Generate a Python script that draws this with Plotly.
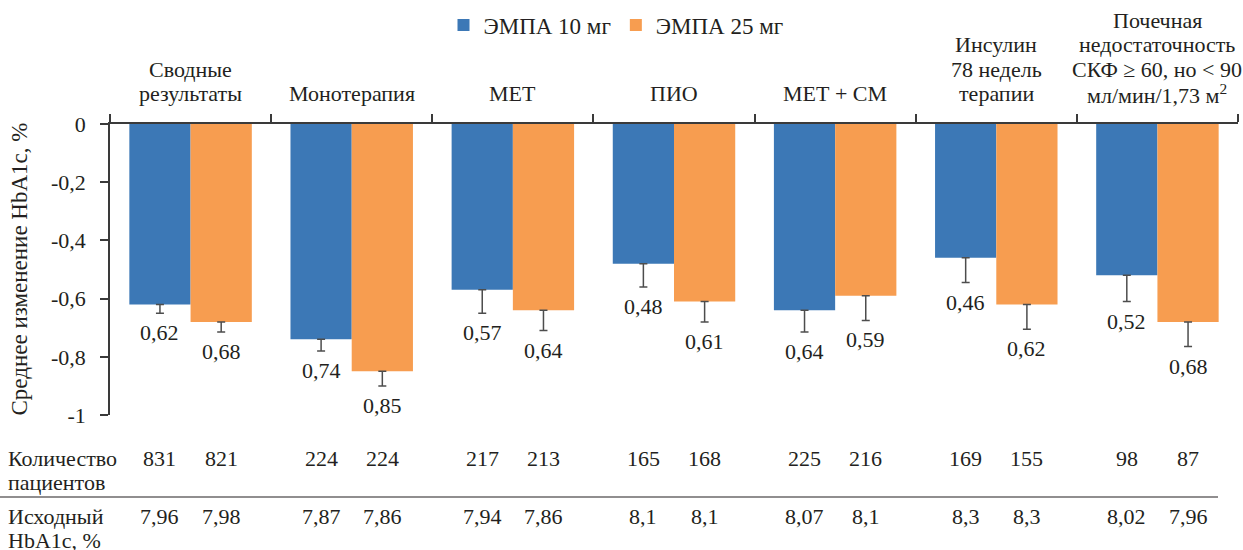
import plotly.graph_objects as go

# Subgroups of the pooled analysis (each label split into its lines)
category_lines = [
    ["Сводные", "результаты"],
    ["Монотерапия"],
    ["МЕТ"],
    ["ПИО"],
    ["МЕТ + СМ"],
    ["Инсулин", "78 недель", "терапии"],
    ["Почечная", "недостаточность", "СКФ ≥ 60, но < 90", "мл/мин/1,73 м<sup>2</sup>"],
]
categories = [" ".join(lines) for lines in category_lines]

series_names = ["ЭМПА 10 мг", "ЭМПА 25 мг"]
colors = ["#3c78b6", "#f79d50"]

# Mean HbA1c reduction, % (shown as absolute values)
reduction_10 = [0.62, 0.74, 0.57, 0.48, 0.64, 0.46, 0.52]
reduction_25 = [0.68, 0.85, 0.64, 0.61, 0.59, 0.62, 0.68]

# Standard error (drawn downward only)
err_10 = [0.03, 0.04, 0.08, 0.08, 0.075, 0.085, 0.09]
err_25 = [0.035, 0.05, 0.07, 0.07, 0.085, 0.085, 0.085]

# Table rows under the chart
row_titles = [["Количество", "пациентов"], ["Исходный", "HbA1c, %"]]
patients_10 = [831, 224, 217, 165, 225, 169, 98]
patients_25 = [821, 224, 213, 168, 216, 155, 87]
baseline_10 = [7.96, 7.87, 7.94, 8.1, 8.07, 8.3, 8.02]
baseline_25 = [7.98, 7.86, 7.86, 8.1, 8.1, 8.3, 7.96]

y_tick_vals = [0, -0.2, -0.4, -0.6, -0.8, -1]
y_tick_text = ["0", "-0,2", "-0,4", "-0,6", "-0,8", "-1"]
y_title = "Среднее изменение HbA1c, %"

FONT = "Liberation Serif"
TEXT = "#231f20"
AXIS = "#3a3a3a"
FS = 22
LINE_STEP = 24.6  # px between stacked text lines

W, H = 1243, 550
M_L, M_R, M_T, M_B = 110, 5, 124, 135
PLOT_W = W - M_L - M_R
PLOT_H = H - M_T - M_B

BARGAP = 0.24
half = (1 - BARGAP) / 4  # offset of each bar centre from the category centre


def comma(v, digits=None):
    s = f"{v:.{digits}f}" if digits is not None else f"{v:g}"
    return s.replace(".", ",")


def paper_y(px):
    # page row -> paper coordinate
    return (H - M_B - px) / PLOT_H


def paper_x(px):
    # page column -> paper coordinate
    return (px - M_L) / PLOT_W


def txt(**kw):
    base = dict(showarrow=False, font=dict(family=FONT, size=FS, color=TEXT))
    base.update(kw)
    return base


fig = go.Figure()
for name, color, vals, errs in [
    (series_names[0], colors[0], reduction_10, err_10),
    (series_names[1], colors[1], reduction_25, err_25),
]:
    fig.add_trace(go.Bar(
        x=categories,
        y=[-v for v in vals],
        name=name,
        marker=dict(color=color, line=dict(width=0)),
        error_y=dict(
            type="data", symmetric=False,
            array=[0] * len(errs), arrayminus=errs,
            color="#4d4d4d", thickness=1.5, width=4,
        ),
    ))

annotations = []

# category labels above the top axis, bottom line aligned
for i, lines in enumerate(category_lines):
    for j, line in enumerate(reversed(lines)):
        annotations.append(txt(
            x=i, xref="x", y=paper_y(94 - j * LINE_STEP), yref="paper",
            text=line, xanchor="center", yanchor="middle",
        ))

# value labels below the error bars
for i in range(len(categories)):
    for sign, vals, errs in [(-1, reduction_10, err_10), (1, reduction_25, err_25)]:
        annotations.append(txt(
            x=i + sign * half, xref="x",
            y=-(vals[i] + errs[i]), yref="y",
            text=comma(vals[i], 2),
            yanchor="top", xanchor="center", yshift=-5,
        ))

# table under the chart
row_counts_px = 458
row_base_px = 516
for i in range(len(categories)):
    for sign, cnt, base in [(-1, patients_10, baseline_10), (1, patients_25, baseline_25)]:
        annotations.append(txt(
            x=i + sign * half, xref="x", y=paper_y(row_counts_px), yref="paper",
            text=str(cnt[i]), xanchor="center", yanchor="middle",
        ))
        annotations.append(txt(
            x=i + sign * half, xref="x", y=paper_y(row_base_px), yref="paper",
            text=comma(base[i]), xanchor="center", yanchor="middle",
        ))

for lines, top_px in zip(row_titles, [row_counts_px, row_base_px]):
    for j, line in enumerate(lines):
        annotations.append(txt(
            x=paper_x(6), xref="paper", y=paper_y(top_px + j * LINE_STEP), yref="paper",
            text=line, xanchor="left", yanchor="middle", align="left",
        ))

# y-axis title
annotations.append(txt(
    x=paper_x(19), xref="paper", y=0.5, yref="paper",
    text=y_title, textangle=-90, xanchor="center", yanchor="middle",
    font=dict(family=FONT, size=23, color=TEXT),
))

fig.update_layout(
    width=W, height=H,
    margin=dict(l=M_L, r=M_R, t=M_T, b=M_B, autoexpand=False),
    paper_bgcolor="white", plot_bgcolor="white",
    barmode="group", bargap=BARGAP, bargroupgap=0,
    font=dict(family=FONT, size=FS, color=TEXT),
    legend=dict(
        orientation="h", x=paper_x(616), xanchor="center", y=paper_y(25), yanchor="middle",
        font=dict(family=FONT, size=23, color=TEXT),
        itemsizing="constant",
    ),
    annotations=annotations,
    shapes=[dict(
        type="line", xref="paper", yref="paper",
        x0=paper_x(0), x1=paper_x(1218),
        y0=paper_y(497), y1=paper_y(497),
        line=dict(color=TEXT, width=1.2),
    )],
    xaxis=dict(
        type="category", side="top", automargin=False, showticklabels=False,
        showline=True, linecolor=AXIS, linewidth=1.5,
        ticks="outside", tickson="boundaries", ticklen=8, tickcolor=AXIS, tickwidth=1.5,
        showgrid=False, zeroline=False,
        range=[-0.5, len(categories) - 0.5],
    ),
    yaxis=dict(
        range=[-1, 0], automargin=False,
        showline=True, linecolor=AXIS, linewidth=1.5,
        ticks="outside", ticklen=8, tickcolor=AXIS, tickwidth=1.5,
        ticklabelstandoff=10,
        tickvals=y_tick_vals, ticktext=y_tick_text,
        showgrid=False, zeroline=False,
        tickfont=dict(family=FONT, size=FS, color=TEXT),
    ),
    showlegend=True,
)

fig.write_html("out.html")
